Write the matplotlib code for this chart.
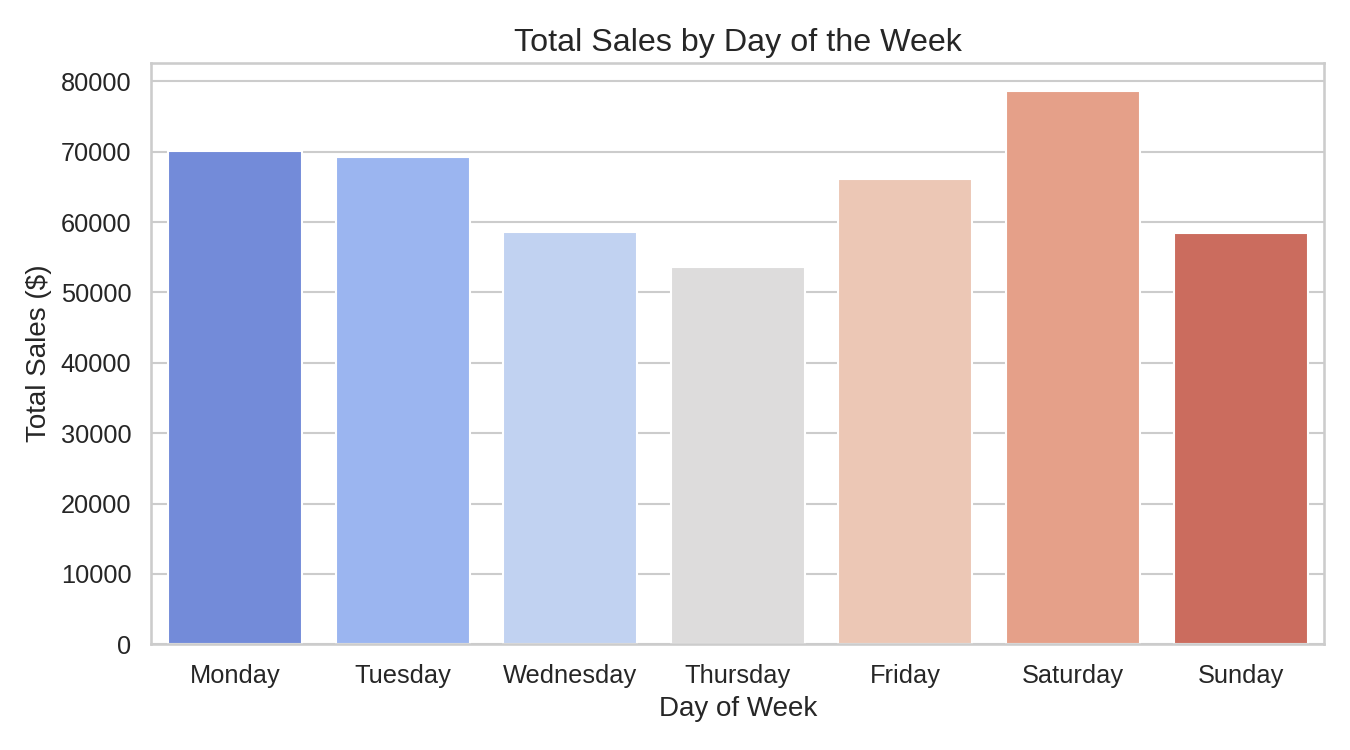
import matplotlib
matplotlib.use("Agg")
import matplotlib.pyplot as plt
import seaborn as sns

# values
days = ["Monday", "Tuesday", "Wednesday", "Thursday", "Friday", "Saturday", "Sunday"]
total_sales = [70100, 69250, 58570, 53580, 66100, 78670, 58430]

sns.set_theme(style="whitegrid")
plt.rcParams["font.family"] = ["Liberation Sans", "DejaVu Sans"]

fig, ax = plt.subplots(figsize=(9, 5), dpi=150)
sns.barplot(x=days, y=total_sales, hue=days, palette="coolwarm", legend=False, ax=ax)

ax.set_title("Total Sales by Day of the Week", fontsize=15.5)
ax.set_xlabel("Day of Week", fontsize=13.3)
ax.set_ylabel("Total Sales ($)", fontsize=13.3)
ax.tick_params(labelsize=12.2)

fig.subplots_adjust(left=0.112, right=0.981, top=0.916, bottom=0.141)
plt.savefig("out.png", dpi=150)
